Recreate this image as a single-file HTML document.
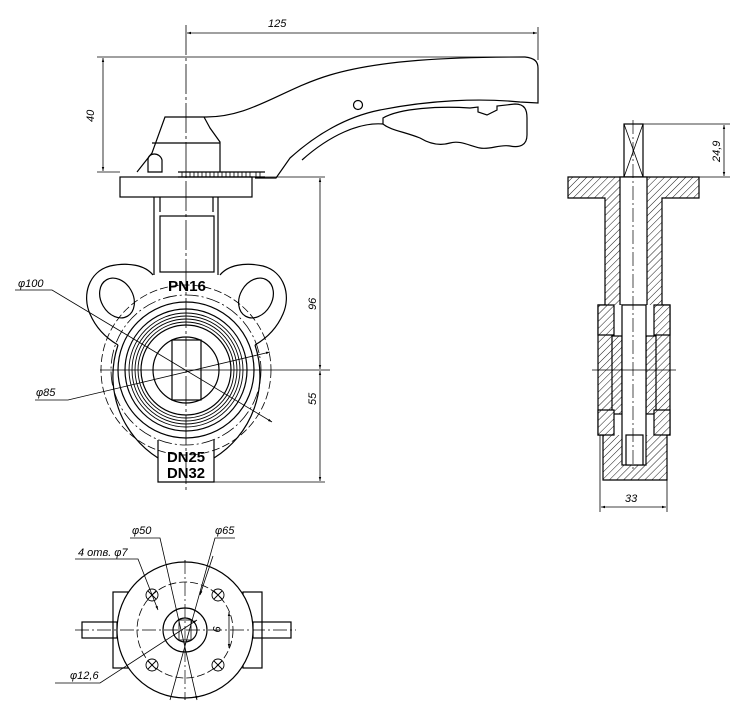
<!DOCTYPE html>
<html><head><meta charset="utf-8"><style>
html,body{margin:0;padding:0;background:#fff;}
svg{display:block;}
text{font-family:"Liberation Sans",sans-serif;font-style:italic;fill:#000;}
</style></head><body>
<svg width="741" height="709" viewBox="0 0 741 709" xmlns="http://www.w3.org/2000/svg">
<defs>
<pattern id="h" width="5" height="5" patternUnits="userSpaceOnUse" patternTransform="rotate(45)">
<rect width="5" height="5" fill="#fff"/><line x1="0" y1="0" x2="0" y2="5" stroke="#000" stroke-width="0.9"/></pattern>
<marker id="a" viewBox="0 0 10 10" refX="10" refY="5" markerWidth="8" markerHeight="5" orient="auto-start-reverse"><path d="M0,2 L10,5 L0,8z" fill="#000"/></marker>
</defs>
<g fill="none" stroke="#000" stroke-width="1.2">
<line x1="186" y1="25" x2="186" y2="490" stroke-width="0.8" stroke-dasharray="30,3,3,3"/>
<line x1="538" y1="27" x2="538" y2="60" stroke-width="0.8"/>
<line x1="187" y1="33" x2="537" y2="33" stroke-width="0.8" marker-start="url(#a)" marker-end="url(#a)"/>
<line x1="97" y1="57" x2="520" y2="57" stroke-width="0.8"/>
<line x1="97" y1="172" x2="120" y2="172" stroke-width="0.8"/>
<line x1="103" y1="58" x2="103" y2="171" stroke-width="0.8" marker-start="url(#a)" marker-end="url(#a)"/>
<path d="M204,117 C250,118 280,90 330,75 C380,60 450,57 525,57 C535,58 538,62 538,68 L538,103 L520,102 C480,98 430,100 380,110 C340,118 310,140 290,158 L276,178 L255,178"/>
<path d="M383,118 C400,108 440,106 470,108 L478,107 L478,112 L487,115 L497,110 L497,106 L515,104 C525,104 527,110 527,118 L527,135 C527,145 520,148 510,146 C500,144 490,150 480,148 C470,146 460,140 450,143 C440,146 430,144 420,138 C405,132 390,130 383,124 Z"/>
<path d="M383,124 C360,122 330,135 302,160"/>
<circle cx="358" cy="105" r="4.5"/>
<path d="M204,117 L165,117 L152,153 L137,172 M204,117 L210,128 L220,142 L220,172 M152,143 L220,143"/>
<path d="M148,172 L148,160 C148,152 160,152 162,160 L162,172 Z"/>
<line x1="178" y1="172" x2="265" y2="172"/>
<line x1="178" y1="177" x2="265" y2="177"/>
<g stroke-width="0.8">
<path d="M182,172v5M186,172v5M190,172v5M194,172v5M198,172v5M202,172v5M206,172v5M210,172v5M214,172v5M218,172v5M222,172v5M226,172v5M230,172v5M234,172v5M238,172v5M242,172v5M246,172v5M250,172v5M256,172v5M260,172v5"/></g>
<line x1="120" y1="177" x2="325" y2="177" stroke-width="0.8"/>
<rect x="120" y="177" width="132" height="20"/>
<path d="M154,197 L154,275 M218,197 L218,275"/>
<path d="M160,197 L160,212 M213,197 L213,212"/>
<rect x="160" y="216" width="54" height="56"/>
<path d="M153,275 C145,265 128,262 110,266 C88,272 82,296 90,314 C96,328 106,338 118,345 M220,275 C228,265 245,262 263,266 C285,272 291,296 283,314 C277,328 267,338 255,345"/>
<ellipse cx="117" cy="298" rx="16" ry="21" transform="rotate(-30 117 298)"/>
<ellipse cx="256" cy="298" rx="16" ry="21" transform="rotate(30 256 298)"/>
<path d="M118,345 A97,97 0 0 0 158,458 M255,345 A97,97 0 0 1 214,458"/>
<circle cx="186" cy="370" r="85" stroke-width="0.8" stroke-dasharray="8,3"/>
<circle cx="186" cy="370" r="75" stroke-width="0.8" stroke-dasharray="14,3,2,3"/>
<circle cx="186" cy="370" r="68"/>
<circle cx="186" cy="370" r="61"/>
<circle cx="186" cy="370" r="57" stroke-width="0.9"/>
<circle cx="186" cy="370" r="54" stroke-width="0.9"/>
<circle cx="186" cy="370" r="51" stroke-width="0.9"/>
<circle cx="186" cy="370" r="48" stroke-width="0.9"/>
<circle cx="186" cy="370" r="45"/>
<circle cx="186" cy="370" r="33"/>
<rect x="172" y="340" width="29" height="60"/>
<path d="M158,440 L158,482 L214,482 L214,440"/>
<line x1="100" y1="370" x2="330" y2="370" stroke-width="0.8"/>
<line x1="214" y1="482" x2="325" y2="482" stroke-width="0.8"/>
<line x1="320" y1="178" x2="320" y2="369" stroke-width="0.8" marker-start="url(#a)" marker-end="url(#a)"/>
<line x1="320" y1="371" x2="320" y2="481" stroke-width="0.8" marker-start="url(#a)" marker-end="url(#a)"/>
<path d="M15,290 L52,290 L272,422" stroke-width="0.8" marker-end="url(#a)"/>
<path d="M35,400 L68,400 L270,352" stroke-width="0.8" marker-end="url(#a)"/>
<rect x="624" y="124" width="19" height="53"/>
<path d="M624,124 L643,177 M643,124 L624,177" stroke-width="0.8"/>
<line x1="643" y1="124" x2="730" y2="124" stroke-width="0.8"/>
<line x1="699" y1="177" x2="730" y2="177" stroke-width="0.8"/>
<line x1="724" y1="125" x2="724" y2="176" stroke-width="0.8" marker-start="url(#a)" marker-end="url(#a)"/>
<path d="M568,177 L699,177 L699,198 L662,198 L662,305 L670,305 L670,435 L667,435 L667,480 L603,480 L603,435 L598,435 L598,305 L605,305 L605,198 L568,198 Z" fill="url(#h)"/>
<rect x="620" y="177" width="27" height="128" fill="#fff"/>
<rect x="614" y="305" width="40" height="130" fill="#fff" stroke-width="0"/>
<path d="M598,330 L614,330 M670,330 L654,330 M598,412 L614,412 M670,412 L654,412"/>
<rect x="612" y="336" width="10" height="78" fill="url(#h)"/>
<rect x="646" y="336" width="10" height="78" fill="url(#h)"/>
<path d="M598,305 L614,305 L614,335 L598,335 Z M654,305 L670,305 L670,335 L654,335 Z M598,410 L614,410 L614,435 L598,435 Z M654,410 L670,410 L670,435 L654,435 Z" fill="url(#h)"/>
<rect x="622" y="305" width="24" height="160" fill="#fff"/>
<rect x="626" y="435" width="17" height="30" fill="#fff"/>
<line x1="633" y1="120" x2="633" y2="470" stroke-width="0.7" stroke-dasharray="14,3,2,3"/>
<line x1="592" y1="370" x2="676" y2="370" stroke-width="0.8"/>
<line x1="600" y1="435" x2="600" y2="512" stroke-width="0.8"/>
<line x1="667" y1="480" x2="667" y2="512" stroke-width="0.8"/>
<line x1="601" y1="507" x2="666" y2="507" stroke-width="0.8" marker-start="url(#a)" marker-end="url(#a)"/>
<rect x="113" y="592" width="15" height="76"/>
<rect x="243" y="592" width="19" height="76"/>
<rect x="82" y="622" width="35" height="16"/>
<rect x="253" y="622" width="38" height="16"/>
<line x1="75" y1="630" x2="296" y2="630" stroke-width="0.7" stroke-dasharray="14,3,2,3"/>
<line x1="185" y1="560" x2="185" y2="700" stroke-width="0.7" stroke-dasharray="14,3,2,3"/>
<circle cx="185" cy="630" r="68" fill="#fff"/>
<circle cx="185" cy="630" r="48" stroke-width="0.8" stroke-dasharray="8,3"/>
<circle cx="185" cy="630" r="22"/>
<circle cx="185" cy="630" r="12"/>
<rect x="179" y="620" width="12" height="20" stroke-width="0.8"/>
<line x1="120" y1="630" x2="250" y2="630" stroke-width="0.7" stroke-dasharray="14,3,2,3"/>
<line x1="185" y1="560" x2="185" y2="700" stroke-width="0.7" stroke-dasharray="14,3,2,3"/>
<g stroke-width="0.9">
<circle cx="152" cy="595" r="6"/><circle cx="218" cy="595" r="6"/><circle cx="152" cy="665" r="6"/><circle cx="218" cy="665" r="6"/>
<path d="M148,591l8,8M156,591l-8,8M214,591l8,8M222,591l-8,8M148,661l8,8M156,661l-8,8M214,661l8,8M222,661l-8,8"/>
</g>
<path d="M75,559 L138,559 L158,610" stroke-width="0.8" marker-end="url(#a)"/>
<path d="M130,538 L160,538 L197,700" stroke-width="0.8" marker-end="url(#a)"/>
<path d="M235,538 L215,538 L170,700" stroke-width="0.8"/>
<path d="M213,556 L200,595" stroke-width="0.8" marker-end="url(#a)"/>
<path d="M55,683 L100,683 L197,620" stroke-width="0.8" marker-end="url(#a)"/>
<line x1="229" y1="612" x2="229" y2="648" stroke-width="0.8" marker-start="url(#a)" marker-end="url(#a)"/>
</g>
<g font-size="11">
<text x="268" y="27">125</text>
<text transform="translate(94,122) rotate(-90)">40</text>
<text transform="translate(316,310) rotate(-90)">96</text>
<text transform="translate(316,405) rotate(-90)">55</text>
<text transform="translate(720,162) rotate(-90)">24,9</text>
<text x="625" y="502">33</text>
<text x="18" y="287">φ100</text>
<text x="36" y="396">φ85</text>
<text x="132" y="534">φ50</text>
<text x="215" y="534">φ65</text>
<text x="78" y="556">4 отв. φ7</text>
<text x="70" y="679">φ12,6</text>
<text transform="translate(213,626) rotate(90)">9</text>
</g>
<g font-size="15" font-weight="bold">
<text x="168" y="291" textLength="38" lengthAdjust="spacingAndGlyphs" style="font-style:normal">PN16</text>
<text x="167" y="462" textLength="38" lengthAdjust="spacingAndGlyphs" style="font-style:normal">DN25</text>
<text x="167" y="478" textLength="38" lengthAdjust="spacingAndGlyphs" style="font-style:normal">DN32</text>
</g>
</svg>
</body></html>
